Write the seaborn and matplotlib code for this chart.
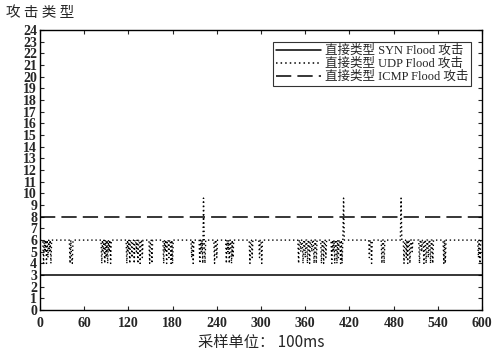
import numpy as np
import pandas as pd
import matplotlib
matplotlib.use("Agg")
import matplotlib.pyplot as plt
import seaborn as sns

# sampling index (unit: 100 ms)
t = np.arange(0, 601)

syn_level = 3.0
icmp_level = 8.0
udp_level = 6.0

# UDP dips (sample index, value)
udp_dip_t = [5, 7, 9, 11, 13, 15, 41, 43, 44,
             84, 86, 88, 90, 92, 94, 96,
             118, 120, 122, 125, 128, 131, 133, 136, 139,
             149, 152, 168, 170, 172, 175, 178, 180,
             206, 208, 217, 219, 221, 224, 237, 240,
             253, 255, 257, 260, 262, 285, 288, 298, 301,
             351, 354, 357, 360, 363, 366, 369, 372, 375,
             382, 385, 388, 396, 398, 400, 403, 405, 408, 410,
             447, 450, 464, 467, 494, 497, 499, 502, 505,
             515, 518, 521, 524, 527, 530, 533, 548, 550, 595, 597]
udp_dip_v = [4, 5, 4, 4.5, 5, 4, 4, 4.5, 4,
             4, 5, 4, 4.5, 4, 5, 4,
             4, 5, 4, 4.5, 4, 5, 4, 4, 4.5,
             4, 4, 4, 5, 4, 4.5, 4, 4,
             4.5, 4, 4, 5, 4, 4, 4, 4.5,
             4, 5, 4, 4, 4.5, 4, 4.5, 4.5, 4,
             4, 5, 4, 4.5, 4, 4, 5, 4, 4,
             4, 4, 4.5, 4, 5, 4, 4, 4.5, 4, 4,
             4.5, 4, 4, 4, 4, 4.5, 4, 4, 5,
             4, 5, 4, 4, 4.5, 4, 4, 4, 4, 4.5, 4]
# UDP spikes
udp_spike_t = [222, 412, 490]
udp_spike_v = [9.6, 9.6, 9.6]

labels = ["直接类型 SYN Flood 攻击", "直接类型 UDP Flood 攻击", "直接类型 ICMP Flood 攻击"]

syn = np.full(t.shape, syn_level)
icmp = np.full(t.shape, icmp_level)
udp = np.full(t.shape, udp_level)
udp[udp_dip_t] = udp_dip_v
udp[udp_spike_t] = udp_spike_v

df = pd.DataFrame({"t": np.concatenate([t, t, t]),
                   "v": np.concatenate([syn, udp, icmp]),
                   "type": np.repeat(labels, len(t))})

sns.set_style("ticks")
plt.rcParams["font.family"] = ["Liberation Serif", "Noto Sans CJK SC"]
plt.rcParams["xtick.direction"] = "in"
plt.rcParams["ytick.direction"] = "in"

cjk = ["Noto Sans CJK SC", "DejaVu Sans"]

fig = plt.figure(figsize=(4.92, 3.54), dpi=100)
ax = fig.add_axes([0.081, 0.124, 0.899, 0.791])

sns.lineplot(data=df, x="t", y="v", hue="type", style="type",
             palette=["black"] * 3,
             dashes=[(None, None), (1, 2), (10, 4)],
             linewidth=1.1, ax=ax)
ax.lines[1].set_linewidth(1.0)

ax.set_xlim(0, 600)
ax.set_ylim(0, 24)
ax.set_xticks(np.arange(0, 601, 60))
ax.set_yticks(np.arange(0, 25, 1))
ax.tick_params(axis="both", which="both", top=True, right=True,
               labelsize=10, length=3, width=0.8, pad=2)
for lab in ax.get_xticklabels() + ax.get_yticklabels():
    lab.set_fontweight("bold")
ax.tick_params(axis="x", pad=5)
for s in ax.spines.values():
    s.set_linewidth(1.0)
    s.set_color("black")

ax.set_xlabel("采样单位： 100ms", family=cjk, fontsize=11, labelpad=3)
ax.set_ylabel("")
fig.text(0.012, 0.962, "攻 击 类 型", family=cjk,
         fontsize=10.5, ha="left", va="center")

leg = ax.legend(loc="upper right", bbox_to_anchor=(0.99, 0.98),
                frameon=True, fancybox=False, edgecolor="black",
                handlelength=3.6, handletextpad=0.3, borderpad=0.25,
                labelspacing=0.05,
                prop={"family": ["Liberation Serif", "Noto Sans CJK SC"], "size": 9})
leg.get_frame().set_linewidth(0.8)

fig.savefig("out.png", dpi=100, facecolor="white")
